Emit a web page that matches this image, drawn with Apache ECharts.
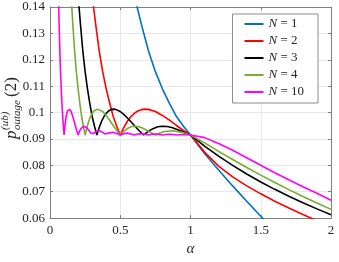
<!DOCTYPE html>
<html>
<head>
<meta charset="utf-8">
<script src="https://cdn.jsdelivr.net/npm/echarts@6/dist/echarts.min.js"></script>
<style>html,body{margin:0;padding:0;background:#fff;}#c{width:339px;height:262px;}</style>
</head>
<body>
<div id="c"></div>
<script>
// ---- data (alpha, p) ----
const seriesNames = ['N = 1', 'N = 2', 'N = 3', 'N = 4', 'N = 10'];
const seriesColors = ['#0072BD', '#FF0000', '#000000', '#77AC30', '#FF00FF'];
const xTicks = [0, 0.5, 1, 1.5, 2];
const yTicks = [0.06, 0.07, 0.08, 0.09, 0.1, 0.11, 0.12, 0.13, 0.14];

const dataN1 = [[0.60,0.1448],[0.62,0.1400],[0.65,0.1335],[0.70,0.1235],[0.75,0.1155],[0.80,0.1090],[0.85,0.1035],[0.90,0.0985],[0.95,0.0948],[1.00,0.0915],
  [1.1,0.0845],[1.2,0.0782],[1.3,0.0722],[1.4,0.0664],[1.5,0.0607],[1.6,0.0552]];

const dataN2 = [[0.30,0.1448],[0.31,0.1400],[0.325,0.1335],[0.35,0.1235],[0.375,0.1155],[0.40,0.1090],[0.425,0.1035],[0.45,0.0985],[0.475,0.0948],[0.50,0.0915],
  [0.525,0.0943],[0.55,0.0966],[0.575,0.0984],[0.60,0.0997],[0.625,0.1006],[0.65,0.1011],[0.675,0.1013],[0.70,0.1012],[0.75,0.1004],[0.80,0.0989],[0.85,0.0971],[0.90,0.0951],[0.95,0.0932],[1.00,0.0915],
  [1.1,0.0850],[1.2,0.0797],[1.3,0.0756],[1.4,0.0722],[1.5,0.0692],[1.6,0.0664],[1.7,0.0638],[1.8,0.0614],[1.9,0.0590],[2.0,0.0567]];

const dataN3 = [[0.20,0.1448],[0.2067,0.1400],[0.2167,0.1335],[0.2333,0.1235],[0.25,0.1155],[0.2667,0.1090],[0.2833,0.1035],[0.30,0.0985],[0.3167,0.0948],[0.3333,0.0915],
  [0.35,0.0943],[0.3667,0.0966],[0.3833,0.0984],[0.40,0.0997],[0.4167,0.1006],[0.4333,0.1011],[0.45,0.1013],[0.4667,0.1012],[0.50,0.1004],[0.5333,0.0989],[0.5667,0.0971],[0.60,0.0951],[0.6333,0.0932],[0.6667,0.0915],
  [0.70,0.0929],[0.7333,0.0939],[0.7667,0.0946],[0.80,0.0948],[0.8333,0.0947],[0.8667,0.0943],[0.90,0.0937],[0.9333,0.0930],[0.9667,0.0922],[1.00,0.0915],
  [1.1,0.0873],[1.2,0.0835],[1.3,0.0800],[1.4,0.0767],[1.5,0.0737],[1.6,0.0709],[1.7,0.0683],[1.8,0.0658],[1.9,0.0635],[2.0,0.0613]];

const dataN4 = [[0.15,0.1448],[0.155,0.1400],[0.1625,0.1335],[0.175,0.1235],[0.1875,0.1155],[0.20,0.1090],[0.2125,0.1035],[0.225,0.0985],[0.2375,0.0948],[0.25,0.0915],
  [0.2625,0.0943],[0.275,0.0966],[0.2875,0.0984],[0.30,0.0997],[0.3125,0.1006],[0.325,0.1011],[0.3375,0.1013],[0.35,0.1012],[0.375,0.1004],[0.40,0.0989],[0.425,0.0971],[0.45,0.0951],[0.475,0.0932],[0.50,0.0915],
  [0.525,0.0929],[0.55,0.0939],[0.575,0.0946],[0.60,0.0948],[0.625,0.0947],[0.65,0.0943],[0.675,0.0937],[0.70,0.0930],[0.725,0.0922],[0.75,0.0915],
  [0.775,0.0921],[0.8125,0.0928],[0.875,0.0931],[0.9375,0.0925],[0.975,0.0919],[1.00,0.0915],
  [1.1,0.0885],[1.2,0.0853],[1.3,0.0822],[1.4,0.0792],[1.5,0.0763],[1.6,0.0735],[1.7,0.0708],[1.8,0.0682],[1.9,0.0657],[2.0,0.0633]];

const dataN10 = [[0.06,0.1448],[0.062,0.1400],[0.065,0.1335],[0.07,0.1235],[0.075,0.1155],[0.08,0.1090],[0.085,0.1035],[0.09,0.0985],[0.095,0.0948],[0.10,0.0915],
  [0.105,0.0943],[0.11,0.0966],[0.115,0.0984],[0.12,0.0997],[0.125,0.1006],[0.13,0.1011],[0.135,0.1013],[0.14,0.1012],[0.15,0.1004],[0.16,0.0989],[0.17,0.0971],[0.18,0.0951],[0.19,0.0932],[0.20,0.0915],
  [0.21,0.0929],[0.22,0.0939],[0.23,0.0946],[0.24,0.0948],[0.25,0.0947],[0.26,0.0943],[0.27,0.0937],[0.28,0.0930],[0.29,0.0922],[0.30,0.0915],
  [0.31,0.0921],[0.325,0.0928],[0.35,0.0931],[0.375,0.0925],[0.39,0.0919],[0.40,0.0915],
  [0.425,0.0923],[0.45,0.0925],[0.475,0.0921],[0.50,0.0915],
  [0.525,0.0920],[0.55,0.0922],[0.575,0.0919],[0.60,0.0915],
  [0.625,0.0919],[0.65,0.0920],[0.675,0.0918],[0.70,0.0915],
  [0.725,0.0918],[0.75,0.0919],[0.775,0.0917],[0.80,0.0915],
  [0.825,0.0917],[0.85,0.0918],[0.875,0.0917],[0.90,0.0915],
  [0.95,0.0917],[1.00,0.0915],
  [1.1,0.0905],[1.2,0.0883],[1.3,0.0857],[1.4,0.0829],[1.5,0.0800],[1.6,0.0772],[1.7,0.0745],[1.8,0.0719],[1.9,0.0694],[2.0,0.0668]];

const allData = [dataN1, dataN2, dataN3, dataN4, dataN10];

// ---- chart ----
const SERIF = '"Liberation Serif", "DejaVu Serif", serif';
const AX = '#7f7f7f';
const TXT = '#262626';
const chart = echarts.init(document.getElementById('c'), null, {renderer: 'canvas'});
const fmt = v => String(parseFloat(Number(v).toFixed(4)));

const xBase = {type: 'value', min: xTicks[0], max: xTicks[xTicks.length - 1], interval: xTicks[1] - xTicks[0]};
const yBase = {type: 'value', min: yTicks[0], max: yTicks[yTicks.length - 1], interval: 0.01};

const option = {
  animation: false,
  backgroundColor: '#ffffff',
  grid: {left: 50, right: 8, top: 7, bottom: 36, containLabel: false},
  xAxis: [
    Object.assign({}, xBase, {
      position: 'bottom',
      name: 'α', nameLocation: 'middle', nameGap: 21,
      nameTextStyle: {fontFamily: SERIF, fontStyle: 'italic', fontSize: 15, color: TXT},
      axisLine: {show: true, onZero: false, lineStyle: {color: AX, width: 1}},
      axisTick: {show: true, inside: true, length: 3, lineStyle: {color: AX}},
      axisLabel: {show: true, margin: 6, fontFamily: SERIF, fontSize: 13, color: TXT, formatter: fmt},
      splitLine: {show: true, lineStyle: {color: '#e8e8e8', width: 1}}
    }),
    Object.assign({}, xBase, {
      position: 'top',
      axisLine: {show: true, onZero: false, lineStyle: {color: AX, width: 1}},
      axisTick: {show: true, inside: true, length: 3, lineStyle: {color: AX}},
      axisLabel: {show: false},
      splitLine: {show: false}
    })
  ],
  yAxis: [
    Object.assign({}, yBase, {
      position: 'left',
      axisLine: {show: true, onZero: false, lineStyle: {color: AX, width: 1}},
      axisTick: {show: true, inside: true, length: 3, lineStyle: {color: AX}},
      axisLabel: {show: true, margin: 5, fontFamily: SERIF, fontSize: 13, color: TXT, formatter: fmt},
      splitLine: {show: true, lineStyle: {color: '#e8e8e8', width: 1}}
    }),
    Object.assign({}, yBase, {
      position: 'right',
      axisLine: {show: true, onZero: false, lineStyle: {color: AX, width: 1}},
      axisTick: {show: true, inside: true, length: 3, lineStyle: {color: AX}},
      axisLabel: {show: false},
      splitLine: {show: false}
    })
  ],
  legend: {
    orient: 'vertical',
    right: 21, top: 14,
    padding: [3, 14, 4, 12],
    itemWidth: 19, itemHeight: 14, itemGap: 3,
    backgroundColor: '#ffffff',
    borderColor: '#8c8c8c', borderWidth: 1,
    icon: 'path://M0,6 L19,6 L19,8 L0,8 Z',
    data: seriesNames,
    textStyle: {
      fontFamily: SERIF, fontSize: 13, color: TXT, lineHeight: 14,
      rich: {i: {fontFamily: SERIF, fontStyle: 'italic', fontSize: 13, color: TXT}, r: {fontFamily: SERIF, fontSize: 13, color: TXT}}
    },
    formatter: name => '{i|N}{r| ' + name.slice(2) + '}'
  },
  graphic: [{
    type: 'group',
    x: 12, y: 106,
    rotation: Math.PI / 2,
    children: [
      {type: 'text', x: -33, y: 0, style: {text: 'p', fontFamily: SERIF, fontStyle: 'italic', fontSize: 17, fill: TXT, textVerticalAlign: 'middle', textAlign: 'left'}},
      {type: 'text', x: -24, y: -7, style: {text: '(ub)', fontFamily: SERIF, fontStyle: 'italic', fontSize: 11, fill: TXT, textVerticalAlign: 'middle', textAlign: 'left'}},
      {type: 'text', x: -24, y: 5, style: {text: 'outage', fontFamily: SERIF, fontStyle: 'italic', fontSize: 11, fill: TXT, textVerticalAlign: 'middle', textAlign: 'left'}},
      {type: 'text', x: 9, y: 0, style: {text: '(2)', fontFamily: SERIF, fontSize: 17, fill: TXT, textVerticalAlign: 'middle', textAlign: 'left'}}
    ]
  }],
  series: seriesNames.map((n, i) => ({
    name: n,
    type: 'line',
    xAxisIndex: 0, yAxisIndex: 0,
    data: allData[i],
    symbol: 'none',
    clip: true,
    smooth: false,
    color: seriesColors[i],
    lineStyle: {color: seriesColors[i], width: 1.6},
    itemStyle: {color: seriesColors[i]}
  }))
};
chart.setOption(option);
</script>
</body>
</html>
